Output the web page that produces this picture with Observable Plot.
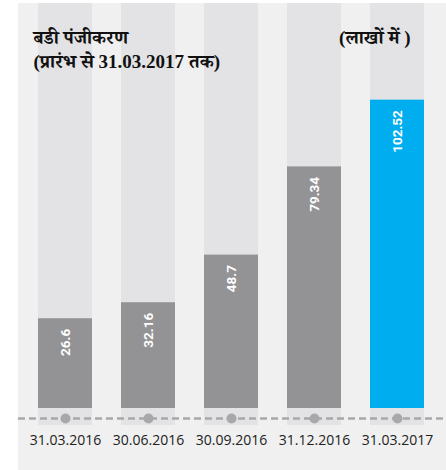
<!DOCTYPE html>
<html>
<head>
<meta charset="utf-8">
<script src="https://cdn.jsdelivr.net/npm/d3@7"></script>
<script src="https://cdn.jsdelivr.net/npm/@observablehq/plot@0.6"></script>
<style>
  html, body { margin: 0; padding: 0; background: #ffffff; }
  #wrap { position: relative; width: 446px; height: 470px; }
  #bg { position: absolute; left: 18px; top: 3px; width: 428px; height: 467px; background: #f0f0f0; }
  #chart { position: absolute; left: 0; top: 0; }
</style>
</head>
<body>
<div id="wrap"><div id="bg"></div><div id="chart"></div></div>
<script>
// Data
const dates = ["31.03.2016", "30.06.2016", "30.09.2016", "31.12.2016", "31.03.2017"];
const values = [26.6, 32.16, 48.7, 79.34, 102.52];
const labels = ["26.6", "32.16", "48.7", "79.34", "102.52"];
const highlight = [false, false, false, false, true];

const titleLines = ["बडी पंजीकरण", "(प्रारंभ से 31.03.2017 तक)"];
const unitLabel = "(लाखों में )";

const rows = dates.map((d, i) => ({date: d, value: values[i], label: labels[i], hi: highlight[i]}));

// scale layout (the infographic's bars rise from a baseline slightly below zero)
const yBase = -4.58;
const yTop = 136.09;
const yBottom = -10.48;
const yDash = -8.05;

const devFont = "'Liberation Serif', 'Noto Serif Devanagari', 'Noto Sans Devanagari', 'Lohit Devanagari', serif";

const chart = Plot.plot({
  width: 446,
  height: 470,
  marginLeft: 18,
  marginRight: 0,
  marginTop: 3,
  marginBottom: 45,
  style: {background: "transparent", overflow: "visible"},
  x: {domain: dates, paddingInner: 0.3514, paddingOuter: 0.246, align: 0.463, label: null},
  y: {domain: [yBottom, yTop], axis: null},
  marks: [
    // background columns
    Plot.barY(rows, {x: "date", y1: yBottom, y2: yTop, fill: "#e3e3e5"}),
    // bars
    Plot.barY(rows, {x: "date", y1: yBase, y2: "value", fill: d => d.hi ? "#00aeef" : "#939396"}),
    // dashed baseline
    Plot.ruleY([yDash], {stroke: "#a8a8aa", strokeWidth: 2.5, strokeDasharray: "7,4"}),
    Plot.dot(rows, {x: "date", y: () => yDash, r: 5, fill: "#a8a8aa", stroke: null}),
    // value labels
    Plot.text(rows, {
      x: "date", y: "value", text: "label", rotate: -90,
      textAnchor: "end", lineAnchor: "middle", dy: 10,
      fill: "white", fontWeight: "bold", fontSize: 13.5,
      fontFamily: "Roboto, 'Liberation Sans', sans-serif"
    }),
    // title
    Plot.text([titleLines[0]], {
      frameAnchor: "top-left", textAnchor: "start", lineAnchor: "bottom",
      dx: 15, dy: 40, fill: "#111", fontWeight: "bold", fontSize: 19, fontFamily: devFont
    }),
    Plot.text([titleLines[1]], {
      frameAnchor: "top-left", textAnchor: "start", lineAnchor: "bottom",
      dx: 15, dy: 64, fill: "#111", fontWeight: "bold", fontSize: 19, fontFamily: devFont
    }),
    Plot.text([unitLabel], {
      frameAnchor: "top-right", textAnchor: "end", lineAnchor: "bottom",
      dx: -36, dy: 40, fill: "#111", fontWeight: "bold", fontSize: 19, fontFamily: devFont
    }),
    // x axis labels
    Plot.axisX({
      tickSize: 0, tickPadding: 10, fontSize: 14, color: "#222",
      fontFamily: "'Open Sans', sans-serif", label: null
    })
  ]
});

document.getElementById("chart").appendChild(chart);
</script>
</body>
</html>
